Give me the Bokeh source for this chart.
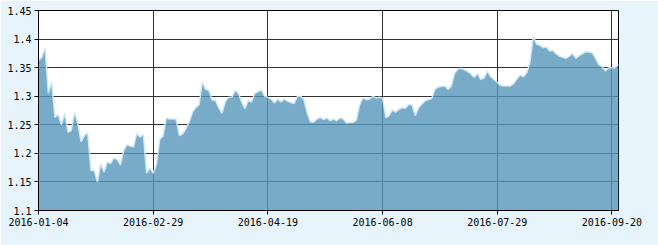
import pandas as pd
from bokeh.plotting import figure
from bokeh.models import Range1d, FixedTicker, ColumnDataSource
from bokeh.embed import file_html
from bokeh.resources import INLINE

# Trading-day calendar (Shanghai exchange, 2016)
holidays = ["2016-02-08", "2016-02-09", "2016-02-10", "2016-02-11", "2016-02-12",
            "2016-04-04", "2016-05-02", "2016-06-09", "2016-06-10",
            "2016-09-15", "2016-09-16"]
dates = [d.strftime("%Y-%m-%d") for d in pd.bdate_range("2016-01-04", "2016-09-22")
         if d.strftime("%Y-%m-%d") not in holidays]

values = [
    1.362, 1.368, 1.385, 1.305, 1.325, 1.263, 1.268, 1.25, 1.27, 1.237,
    1.24, 1.272, 1.252, 1.22, 1.231, 1.236, 1.17, 1.17, 1.15, 1.182,
    1.167, 1.185, 1.182, 1.192, 1.189, 1.18, 1.205, 1.215, 1.213, 1.211,
    1.235, 1.228, 1.233, 1.165, 1.174, 1.165, 1.18, 1.225, 1.23, 1.262,
    1.26, 1.26, 1.26, 1.231, 1.234, 1.243, 1.255, 1.272, 1.28, 1.285,
    1.325, 1.312, 1.31, 1.293, 1.293, 1.28, 1.27, 1.29, 1.298, 1.298,
    1.31, 1.305, 1.29, 1.278, 1.292, 1.29, 1.305, 1.308, 1.311, 1.3,
    1.298, 1.295, 1.288, 1.295, 1.29, 1.295, 1.291, 1.289, 1.287, 1.3,
    1.3, 1.294, 1.27, 1.255, 1.255, 1.26, 1.263, 1.259, 1.262, 1.257,
    1.26, 1.257, 1.262, 1.26, 1.253, 1.254, 1.254, 1.258, 1.285, 1.297,
    1.294, 1.295, 1.3, 1.297, 1.298, 1.297, 1.262, 1.266, 1.276, 1.272,
    1.277, 1.28, 1.279, 1.286, 1.284, 1.266, 1.28, 1.286, 1.292, 1.294,
    1.296, 1.312, 1.316, 1.317, 1.318, 1.312, 1.318, 1.34, 1.347, 1.349,
    1.346, 1.343, 1.339, 1.333, 1.34, 1.329, 1.332, 1.344, 1.334, 1.329,
    1.324, 1.319, 1.318, 1.318, 1.318, 1.322, 1.33, 1.337, 1.334, 1.341,
    1.36, 1.405, 1.391, 1.389, 1.385, 1.386, 1.379, 1.38, 1.374, 1.37,
    1.368, 1.366, 1.37, 1.375, 1.366, 1.371, 1.374, 1.378, 1.377, 1.376,
    1.366, 1.355, 1.352, 1.344, 1.35, 1.35, 1.35, 1.356,
]

tick_labels = ["2016-01-04", "2016-02-29", "2016-04-19", "2016-06-08", "2016-07-29", "2016-09-20"]
y_ticks = [1.1, 1.15, 1.2, 1.25, 1.3, 1.35, 1.4, 1.45]
y_min, y_max = 1.1, 1.45

n = min(len(dates), len(values))
dates = dates[:n]
values = values[:n]
idx = list(range(n))
src = ColumnDataSource(dict(x=idx, y=values, base=[y_min] * n, d=dates))

p = figure(width=658, height=245, output_backend="svg", toolbar_location=None,
           x_range=Range1d(0, n - 1), y_range=Range1d(y_min, y_max))
p.min_border_left = 38
p.min_border_right = 40
p.min_border_top = 10
p.min_border_bottom = 35
p.border_fill_color = "#e8f4fc"
p.background_fill_color = "white"
p.outline_line_color = "black"
p.outline_line_width = 1

p.varea(x="x", y1="base", y2="y", source=src, fill_color="#5696ba", fill_alpha=0.8)
p.line(x="x", y="y", source=src, line_color="#d2e8f6", line_width=1.5, line_alpha=0.9)

xt = [dates.index(t) for t in tick_labels if t in dates]
p.xaxis.ticker = FixedTicker(ticks=xt)
p.xaxis.major_label_overrides = {i: dates[i] for i in xt}
p.yaxis.ticker = FixedTicker(ticks=y_ticks)
p.yaxis.major_label_overrides = {v: ("%g" % v) for v in y_ticks}

for ax in (p.xaxis, p.yaxis):
    ax.axis_line_color = "black"
    ax.major_tick_line_color = "black"
    ax.major_tick_out = 4
    ax.major_tick_in = 0
    ax.minor_tick_line_color = None
    ax.major_label_text_font = "DejaVu Sans Mono"
    ax.major_label_text_font_size = "10px"
    ax.major_label_text_color = "black"
p.xaxis.major_label_standoff = 3
p.yaxis.major_label_standoff = 3

p.xgrid.ticker = FixedTicker(ticks=xt)
p.ygrid.ticker = FixedTicker(ticks=y_ticks)
for g in (p.xgrid, p.ygrid):
    g.grid_line_color = "#333333"
    g.grid_line_width = 1
    g.grid_line_alpha = 1.0

open("out.html", "w").write(file_html(p, INLINE))
